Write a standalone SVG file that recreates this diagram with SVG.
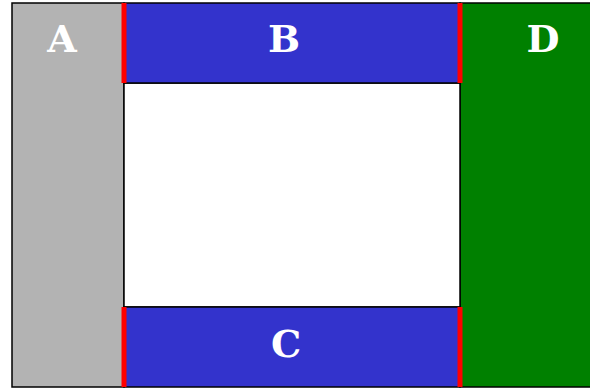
<svg xmlns="http://www.w3.org/2000/svg" width="590" height="388" viewBox="0 0 590 388">
<style>
.box{stroke:#000;stroke-width:1.5}
.lbl{font-family:"DejaVu Serif",serif;font-weight:bold;font-size:38px;fill:#fff;text-anchor:middle}
.red{stroke:#f00;stroke-width:5}
</style>
<rect width="590" height="388" fill="#fff"/>
<g id="A"><rect class="box" x="12" y="3" width="112" height="384" fill="#b3b3b3"/><text class="lbl" x="62" y="52">A</text></g>
<g id="D"><rect class="box" x="460" y="3" width="140" height="384" fill="#008000"/><text class="lbl" x="543" y="52">D</text></g>
<g id="center"><rect class="box" x="124" y="83" width="336" height="224" fill="#fff"/></g>
<g id="B"><rect class="box" x="124" y="3" width="336" height="80" fill="#3333cc"/><text class="lbl" x="284" y="52">B</text></g>
<g id="C"><rect class="box" x="124" y="307" width="336" height="80" fill="#3333cc"/><text class="lbl" x="286" y="357">C</text></g>
<g id="connectors">
<line class="red" x1="124" y1="3" x2="124" y2="83"/>
<line class="red" x1="460" y1="3" x2="460" y2="83"/>
<line class="red" x1="124" y1="307" x2="124" y2="387"/>
<line class="red" x1="460" y1="307" x2="460" y2="387"/>
</g>
</svg>
